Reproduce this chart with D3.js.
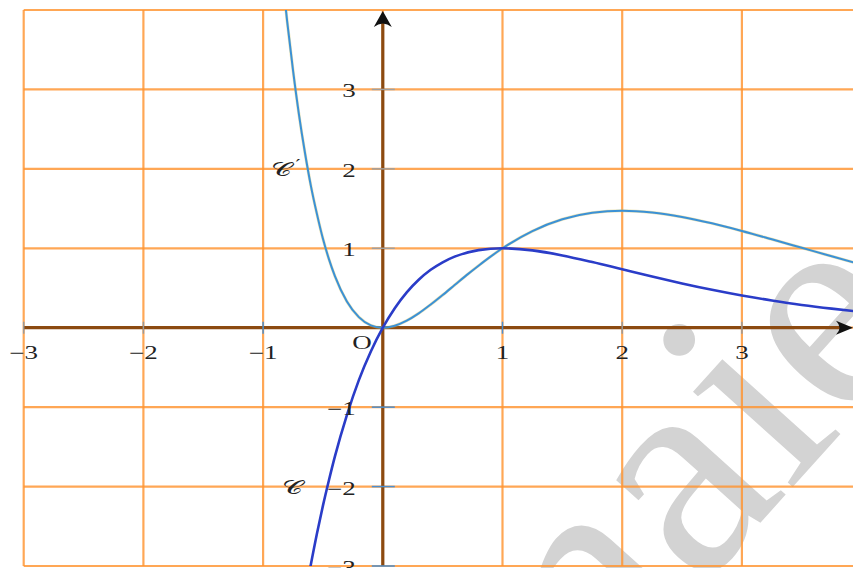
<!DOCTYPE html>
<html>
<head>
<meta charset="utf-8">
<script src="https://cdn.jsdelivr.net/npm/d3@7"></script>
<style>
  body { margin: 0; background: #fff; }
  svg { display: block; }
</style>
</head>
<body>
<svg id="chart" width="853" height="568"></svg>
<script>
// Grid and tick positions (unit lengths)
const gridX = [-3, -2, -1, 0, 1, 2, 3];
const gridY = [-3, -2, -1, 0, 1, 2, 3, 4];
const xTickValues = [-3, -2, -1, 1, 2, 3];
const yTickValues = [-3, -2, -1, 1, 2, 3];

// Curve 𝒞 : sampled points
const curveCX = [-0.62, -0.55, -0.5, -0.45, -0.4, -0.3, -0.2, -0.1, 0, 0.1, 0.2, 0.3, 0.4, 0.5, 0.6, 0.8, 1,
                 1.25, 1.5, 1.75, 2, 2.25, 2.5, 2.75, 3, 3.25, 3.5, 3.75, 3.95];
const curveCY = [-3.13, -2.59, -2.24, -1.92, -1.62, -1.10, -0.66, -0.30, 0, 0.246, 0.445, 0.604, 0.729, 0.824, 0.895, 0.977, 1,
                 0.974, 0.910, 0.827, 0.736, 0.645, 0.558, 0.478, 0.406, 0.343, 0.287, 0.240, 0.207];

// Curve 𝒞′ : sampled points
const curvePX = [-0.83, -0.8, -0.75, -0.7, -0.65, -0.6, -0.55, -0.5, -0.45, -0.4, -0.3, -0.2, -0.1, 0, 0.1, 0.2, 0.3, 0.4,
                 0.5, 0.6, 0.7, 0.8, 0.9, 1, 1.25, 1.5, 1.75, 2, 2.25, 2.5, 2.75, 3, 3.25, 3.5, 3.75, 3.95];
const curvePY = [4.29, 3.87, 3.24, 2.68, 2.20, 1.78, 1.43, 1.12, 0.863, 0.649, 0.330, 0.133, 0.030, 0, 0.025, 0.089, 0.181, 0.292,
                 0.412, 0.537, 0.662, 0.781, 0.895, 1, 1.217, 1.365, 1.447, 1.472, 1.450, 1.394, 1.314, 1.218, 1.113, 1.006, 0.899, 0.816];

const W = 853, H = 568;
const svg = d3.select("#chart");

const x = d3.scaleLinear().domain([-3, 4]).range([23.7, 861.6]);
const y = d3.scaleLinear().domain([-3, 4]).range([566, 10]);

const serif = "'Liberation Serif', 'DejaVu Serif', serif";
const stretch = 1.5; // the figure is drawn wider than tall, text included

// Watermark
svg.append("text")
  .attr("transform", "translate(599,702) rotate(-48)")
  .attr("font-family", serif)
  .attr("font-size", 300)
  .attr("fill", "#d3d3d3")
  .text("naie");

// Grid
const grid = svg.append("g").attr("stroke", "#ff9430").attr("stroke-opacity", 0.82).attr("stroke-width", 2.2);
grid.selectAll("line.gx").data(gridX).join("line")
  .attr("class", "gx")
  .attr("x1", d => x(d)).attr("x2", d => x(d))
  .attr("y1", y(-3)).attr("y2", y(4));
grid.selectAll("line.gy").data(gridY).join("line")
  .attr("class", "gy")
  .attr("x1", x(-3)).attr("x2", W)
  .attr("y1", d => y(d)).attr("y2", d => y(d));

// Axes
const axisColor = "#8c4a10";
svg.append("line")
  .attr("x1", x(-3)).attr("x2", W - 10)
  .attr("y1", y(0)).attr("y2", y(0))
  .attr("stroke", axisColor).attr("stroke-width", 3.2);
svg.append("line")
  .attr("x1", x(0)).attr("x2", x(0))
  .attr("y1", y(-3)).attr("y2", 20)
  .attr("stroke", axisColor).attr("stroke-width", 3.2);

// Tick marks
svg.selectAll("line.tx").data(xTickValues).join("line")
  .attr("class", "tx")
  .attr("x1", d => x(d)).attr("x2", d => x(d))
  .attr("y1", y(0) - 6).attr("y2", y(0) + 6)
  .attr("stroke", d => (d === -1 || d === 1) ? "#4a8fd0" : "#9a9a9a").attr("stroke-width", 1.5);
svg.selectAll("line.ty").data(yTickValues).join("line")
  .attr("class", "ty")
  .attr("x1", x(0) - 11).attr("x2", x(0) + 12)
  .attr("y1", d => y(d)).attr("y2", d => y(d))
  .attr("stroke", d => d < 0 ? "#4a8fd0" : "#a0a0a0").attr("stroke-width", 1.5);

// Curves
svg.append("clipPath").attr("id", "plot-clip")
  .append("rect").attr("x", x(-3)).attr("y", y(4)).attr("width", W - x(-3)).attr("height", y(-3) - y(4));

const line = d3.line().x(d => x(d[0])).y(d => y(d[1])).curve(d3.curveMonotoneX);
const ptsC = d3.zip(curveCX, curveCY);
const ptsP = d3.zip(curvePX, curvePY);

const curves = svg.append("g").attr("clip-path", "url(#plot-clip)").attr("fill", "none");
curves.append("path").attr("d", line(ptsP))
  .attr("stroke", "#d2c060").attr("stroke-width", 3).attr("stroke-opacity", 0.45);
curves.append("path").attr("d", line(ptsP))
  .attr("stroke", "#3b91d6").attr("stroke-width", 2);
curves.append("path").attr("d", line(ptsC))
  .attr("stroke", "#2a3cc8").attr("stroke-width", 2.6);

// Tick labels (widened like the rest of the figure)
const labels = svg.append("g").attr("font-family", serif).attr("font-size", 18).attr("fill", "#222");
const place = (px, py) => `translate(${px},${py}) scale(${stretch},1)`;

labels.selectAll("text.lx").data(xTickValues).join("text")
  .attr("class", "lx")
  .attr("transform", d => place(x(d), y(0) + 31))
  .attr("text-anchor", "middle")
  .text(d => d3.format("")(d));
labels.selectAll("text.ly").data(yTickValues).join("text")
  .attr("class", "ly")
  .attr("transform", d => place(x(0) - 27, y(d) + 8))
  .attr("text-anchor", "end")
  .text(d => d3.format("")(d));
labels.append("text")
  .attr("transform", place(x(0) - 11, y(0) + 21))
  .attr("text-anchor", "end")
  .text("O");

// Curve names
labels.append("text")
  .attr("transform", place(282, 176))
  .attr("text-anchor", "middle").attr("font-size", 19)
  .text("𝒞");
labels.append("text")
  .attr("transform", place(298, 170))
  .attr("font-family", "'DejaVu Serif', serif").attr("font-size", 15)
  .attr("text-anchor", "middle")
  .text("′");
labels.append("text")
  .attr("transform", place(293, 494))
  .attr("text-anchor", "middle").attr("font-size", 19)
  .text("𝒞");

// Arrowheads
const x0 = x(0), y0 = y(0);
svg.append("path")
  .attr("d", `M${x0},11 L${x0 - 9},27 Q${x0},20 ${x0 + 9},27 Z`)
  .attr("fill", "#111");
svg.append("path")
  .attr("d", `M${W},${y0} L${W - 17},${y0 - 7} Q${W - 10},${y0} ${W - 17},${y0 + 7} Z`)
  .attr("fill", "#111");
</script>
</body>
</html>
